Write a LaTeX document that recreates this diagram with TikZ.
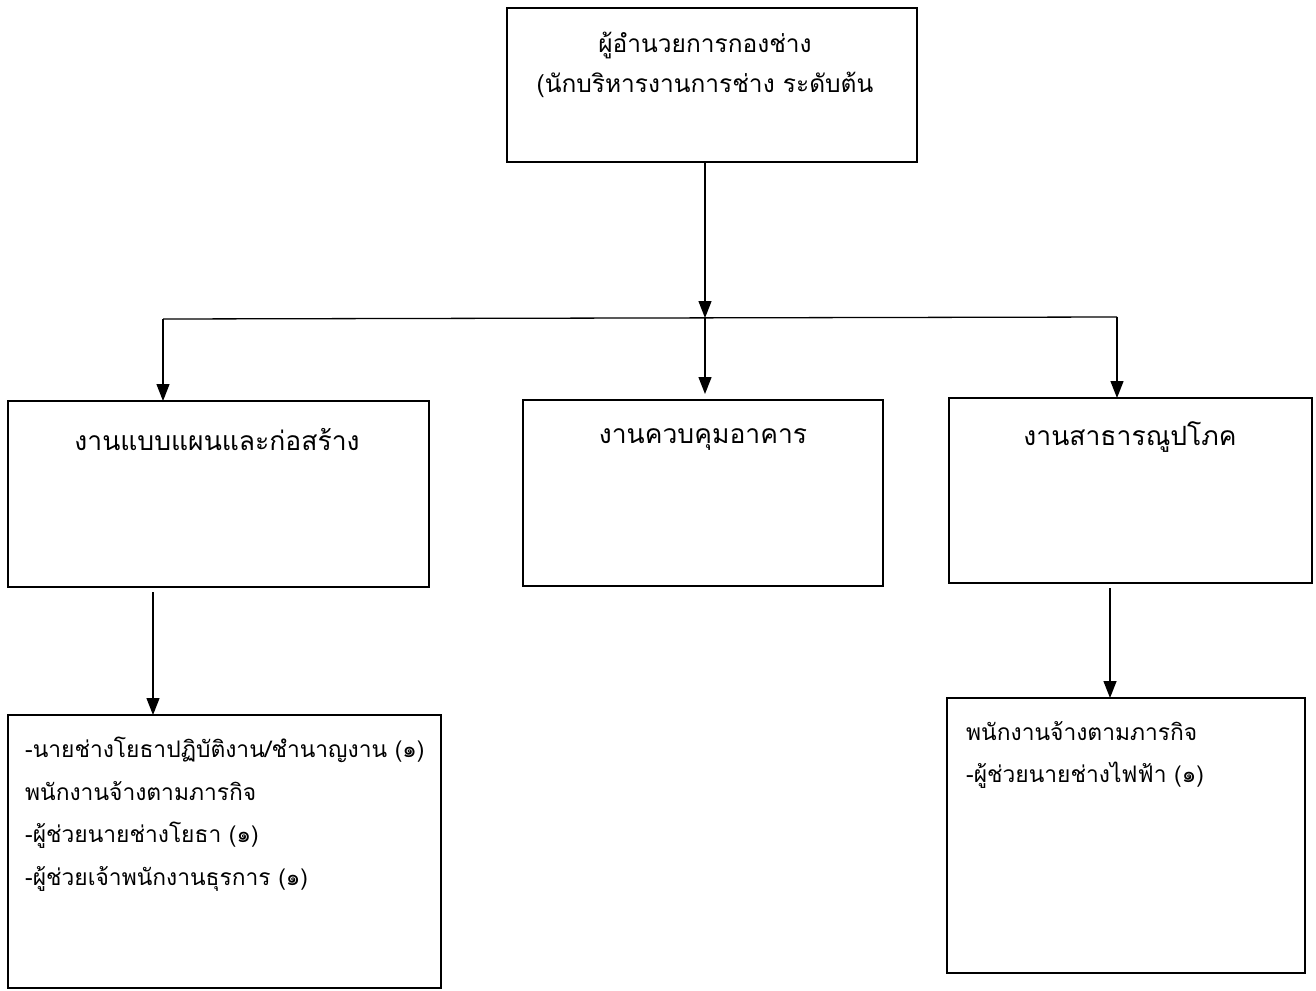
\documentclass[tikz,border=0pt]{standalone}
\usepackage{fontspec}
\setmainfont[Script=Thai]{Loma}
\usetikzlibrary{arrows.meta}
\begin{document}
\begin{tikzpicture}[x=1pt,y=-1pt,
  box/.style={draw, line width=1.1pt, rectangle, inner sep=0pt, outer sep=0pt},
  conn/.style={line width=1.3pt},
  arr/.style={conn, -{Triangle[length=17pt,width=13pt]}},
  title/.style={font=\fontsize{26.5}{40}\selectfont, align=center, inner sep=0pt},
  toptitle/.style={font=\fontsize{24.5}{40}\selectfont, align=center, inner sep=0pt},
  body/.style={font=\fontsize{22.8}{42.5}\selectfont, align=left, anchor=north west, inner sep=0pt}]
\useasboundingbox (0,0) rectangle (1316,990);
% boxes
\node[box, minimum width=410pt, minimum height=154pt] (top) at (712,85) {};
\node[box, minimum width=421pt, minimum height=186pt] (left) at (218.5,494) {};
\node[box, minimum width=360pt, minimum height=186pt] (mid) at (703,493) {};
\node[box, minimum width=363pt, minimum height=185pt] (right) at (1130.5,490.5) {};
\node[box, minimum width=433pt, minimum height=273pt] (lb) at (224.5,851.5) {};
\node[box, minimum width=358pt, minimum height=275pt] (rb) at (1126,835.5) {};
% texts
\node[toptitle] (toptxt) at (705,65) {ผู้อำนวยการกองช่าง\\(นักบริหารงานการช่าง ระดับต้น};
\node[title] (lefttxt) at (217,440) {งานแบบแผนและก่อสร้าง};
\node[title] (midtxt) at (703,440) {งานควบคุมอาคาร};
\node[title] (righttxt) at (1130,437) {งานสาธารณูปโภค};
\node[body] (lbtxt) at (25,737) {-นายช่างโยธาปฏิบัติงาน/ชำนาญงาน (๑)\\พนักงานจ้างตามภารกิจ\\-ผู้ช่วยนายช่างโยธา (๑)\\-ผู้ช่วยเจ้าพนักงานธุรการ (๑)};
\node[body] (rbtxt) at (966,721) {พนักงานจ้างตามภารกิจ\\-ผู้ช่วยนายช่างไฟฟ้า (๑)};
% bus
\coordinate (bl) at (163,319);
\coordinate (bm) at (705,318);
\coordinate (br) at (1117,317);
\draw[conn] (bl) -- (br);
\draw[arr] (top.south -| bm) -- (bm);
\draw[arr] (bl) -- (bl |- left.north);
\draw[arr, shorten >=6pt] (bm) -- (bm |- mid.north);
\draw[arr] (br) -- (br |- right.north);
% lower connectors
\coordinate (la) at (153,592);
\coordinate (ra) at (1110,588);
\draw[arr] (la) -- (la |- lb.north);
\draw[arr] (ra) -- (ra |- rb.north);
\end{tikzpicture}
\end{document}
